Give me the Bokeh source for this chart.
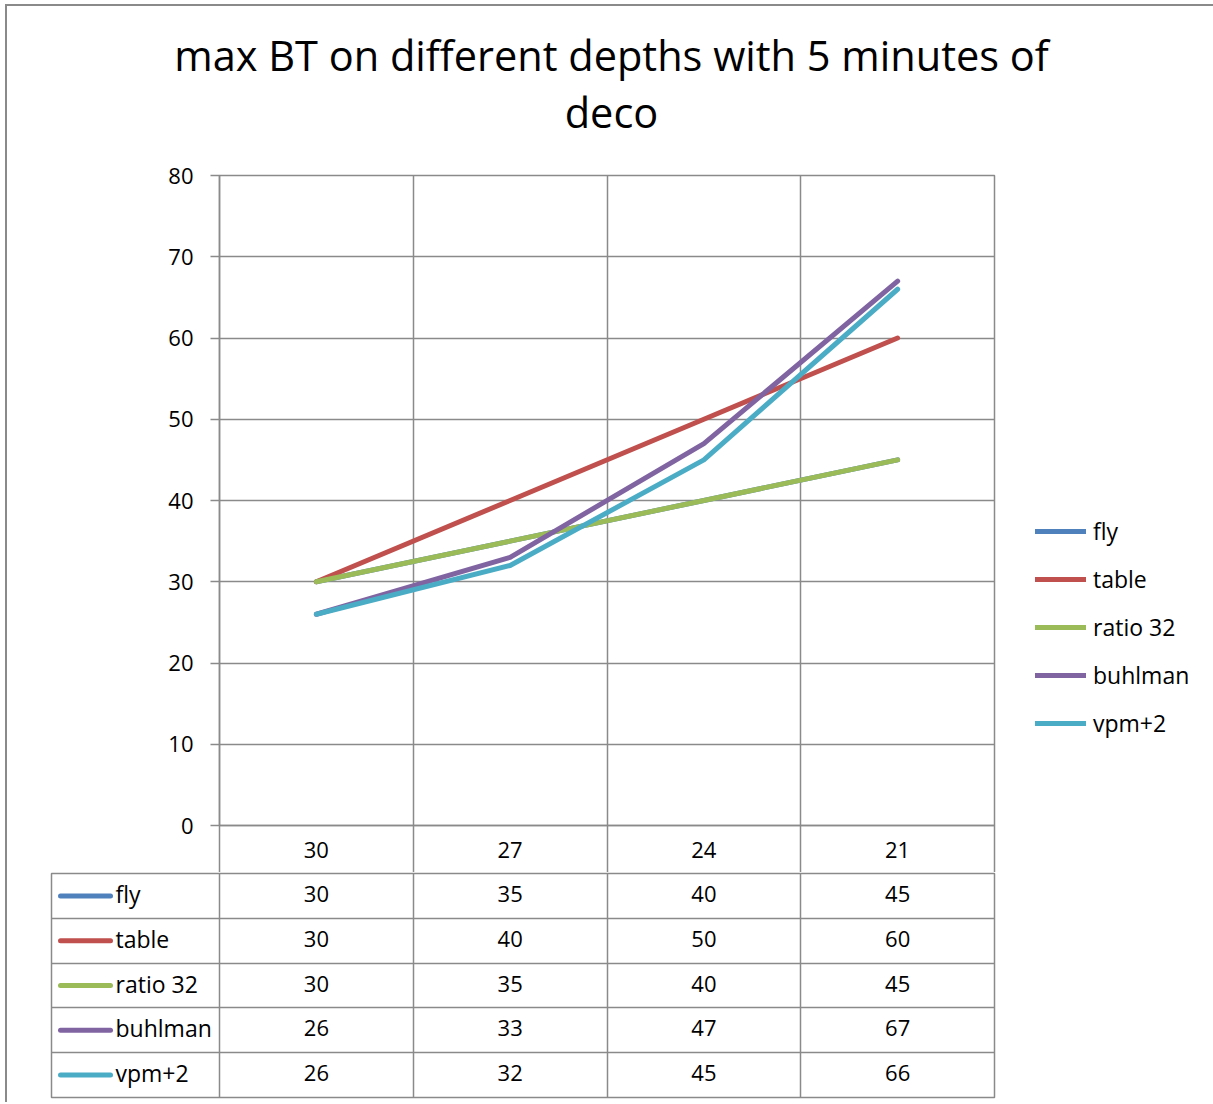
from bokeh.plotting import figure
from bokeh.models import Range1d, FixedTicker, Legend, LegendItem, ColumnDataSource, Label
from bokeh.layouts import column, row
from bokeh.embed import file_html
from bokeh.resources import INLINE

# ---------------- data ----------------
title_lines = ["max BT on different depths with 5 minutes of", "deco"]
depths = ["30", "27", "24", "21"]
series_names = ["fly", "table", "ratio 32", "buhlman", "vpm+2"]
fly = [30, 35, 40, 45]
table = [30, 40, 50, 60]
ratio_32 = [30, 35, 40, 45]
buhlman = [26, 33, 47, 67]
vpm_2 = [26, 32, 45, 66]
series_values = [fly, table, ratio_32, buhlman, vpm_2]
colors = ["#4F81BD", "#C0504D", "#9BBB59", "#8064A2", "#4BACC6"]
y_ticks = list(range(0, 90, 10))

# ---------------- style / geometry ----------------
FONT = "Open Sans"
GRID = "#8a8a8a"
GW = 1.5
W = 1206
WA = 990
WL = W - WA
HT = 150
A_H = 716
frame_left, frame_right = 212, 987
frame_top, frame_bottom = 19, 669
n = len(depths)
xi = list(range(n))


def blank(fig):
    fig.frame_align = False
    fig.title.visible = False
    fig.outline_line_color = None
    fig.grid.visible = False
    fig.background_fill_color = "white"
    fig.border_fill_color = "white"


# ---------------- title strip ----------------
t = figure(width=W, height=HT, output_backend="svg", toolbar_location=None,
           x_axis_location=None, y_axis_location=None,
           x_range=Range1d(0, 1), y_range=Range1d(0, 1),
           min_border_left=0, min_border_right=0, min_border_top=0, min_border_bottom=0)
blank(t)
for txt, yb in zip(title_lines, [102, 45]):
    t.add_layout(Label(x=604, y=yb, x_units="screen", y_units="screen", text=txt,
                       text_align="center", text_baseline="alphabetic",
                       text_font=FONT, text_font_size="41.5px", text_color="black"))

# ---------------- chart ----------------
p = figure(width=WA, height=A_H, output_backend="svg", toolbar_location=None,
           x_range=Range1d(-0.5, n - 0.5), y_range=Range1d(0, 80),
           min_border_left=frame_left, min_border_right=WA - frame_right,
           min_border_top=frame_top, min_border_bottom=A_H - frame_bottom)
p.frame_align = False
p.title.visible = False
p.outline_line_color = GRID
p.outline_line_width = GW
p.background_fill_color = "white"
p.border_fill_color = "white"

p.xgrid.ticker = FixedTicker(ticks=[i + 0.5 for i in range(n - 1)])
p.ygrid.ticker = FixedTicker(ticks=y_ticks)
for g in (p.xgrid, p.ygrid):
    g.grid_line_color = GRID
    g.grid_line_width = GW

xa = p.xaxis[0]
xa.ticker = FixedTicker(ticks=xi, minor_ticks=[i - 0.5 for i in range(n + 1)])
xa.major_label_overrides = {i: d for i, d in enumerate(depths)}
xa.major_tick_line_color = None
xa.major_tick_out = 0
xa.major_tick_in = 0
xa.minor_tick_out = A_H - frame_bottom
xa.minor_tick_in = 0
xa.minor_tick_line_color = GRID
xa.minor_tick_line_width = GW
xa.axis_line_color = GRID
xa.axis_line_width = GW
xa.major_label_standoff = -31
xa.major_label_text_font = FONT
xa.major_label_text_font_size = "22px"
xa.major_label_text_color = "black"

ya = p.yaxis[0]
ya.ticker = FixedTicker(ticks=y_ticks, minor_ticks=[])
ya.major_tick_out = 9
ya.major_tick_in = 0
ya.major_tick_line_color = GRID
ya.major_tick_line_width = GW
ya.minor_tick_line_color = None
ya.axis_line_color = GRID
ya.axis_line_width = GW
ya.major_label_standoff = 17
ya.major_label_text_font = FONT
ya.major_label_text_font_size = "22px"
ya.major_label_text_color = "black"

for vals, c in zip(series_values, colors):
    p.line(xi, vals, line_width=5, line_color=c, line_cap="round", line_join="round")

# ---------------- legend panel (right of chart) ----------------
lg = figure(width=WL, height=A_H, output_backend="svg", toolbar_location=None,
            x_axis_location=None, y_axis_location=None,
            x_range=Range1d(0, 1), y_range=Range1d(0, 1),
            min_border_left=0, min_border_right=0, min_border_top=0, min_border_bottom=0)
blank(lg)
items = []
for name, vals, c in zip(series_names, series_values, colors):
    # same series, outside this panel's visible range: only its legend swatch shows
    r = lg.line(xi, vals, line_width=5, line_color=c, line_cap="round")
    items.append(LegendItem(label=name, renderers=[r]))
legend = Legend(items=items, location=(38, 133), orientation="vertical",
                glyph_width=51, glyph_height=32, label_height=32, spacing=16,
                padding=0, margin=0, border_line_color=None, background_fill_alpha=0,
                label_text_font=FONT, label_text_font_size="23px",
                label_text_color="black", label_standoff=7)
lg.add_layout(legend)

# ---------------- data table ----------------
B_H = 230
tb_left = 44
tb_top = 1
tb_bottom = 225
unit_px = (frame_right - frame_left) / n
x_start = (n - 0.5) - (frame_right - tb_left) / unit_px
rows = len(series_names)

q = figure(width=W, height=B_H, output_backend="svg", toolbar_location=None,
           x_range=Range1d(x_start, n - 0.5), y_range=Range1d(rows, 0),
           min_border_left=tb_left, min_border_right=W - frame_right,
           min_border_top=tb_top, min_border_bottom=B_H - tb_bottom)
q.frame_align = False
q.axis.visible = False
q.title.visible = False
q.outline_line_color = GRID
q.outline_line_width = GW
q.xgrid.ticker = FixedTicker(ticks=[i - 0.5 for i in range(n)])
q.ygrid.ticker = FixedTicker(ticks=list(range(1, rows)))
for g in (q.xgrid, q.ygrid):
    g.grid_line_color = GRID
    g.grid_line_width = GW

cx, cy, ct = [], [], []
for i, vals in enumerate(series_values):
    for j, v in enumerate(vals):
        cx.append(j)
        cy.append(i + 0.5)
        ct.append(str(v))
q.text(x="x", y="y", text="t", source=ColumnDataSource(dict(x=cx, y=cy, t=ct)),
       text_align="center", text_baseline="middle", text_font={"value": FONT},
       text_font_size="22px", text_color="black", y_offset=-2)

ry = [i + 0.5 for i in range(rows)]
sw_x0 = x_start + 9 / unit_px
sw_x1 = x_start + 59 / unit_px
q.segment(x0=[sw_x0] * rows, y0=ry, x1=[sw_x1] * rows, y1=ry, line_color=colors,
          line_width=5, line_cap="round")
q.text(x=[sw_x1 + 5 / unit_px] * rows, y=ry, text=series_names, text_align="left",
       text_baseline="middle", text_font={"value": FONT}, text_font_size="23px",
       text_color="black", y_offset=-2)

layout = column(t, row(p, lg, spacing=0), q, spacing=0, margin=(4, 0, 0, 5),
                styles={"border-left": "2px solid #8a8a8a", "border-top": "2px solid #8a8a8a"})

open("out.html", "w").write(file_html(layout, INLINE))
